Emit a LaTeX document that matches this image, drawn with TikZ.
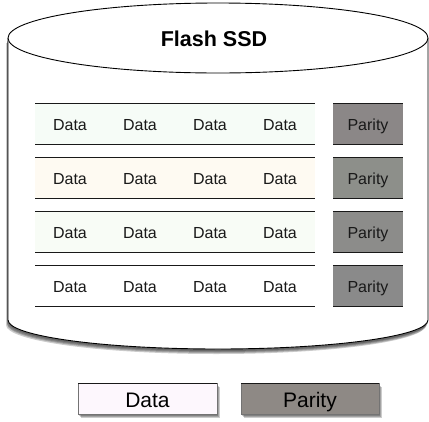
\documentclass[tikz,border=0pt]{standalone}
\usepackage{fontspec}
\setmainfont{Liberation Sans}
\definecolor{stripA}{HTML}{F6FCF7}
\definecolor{stripB}{HTML}{FEFAF2}
\definecolor{stripC}{HTML}{F8FCF6}
\definecolor{stripD}{HTML}{FFFFFF}
\definecolor{parA}{HTML}{8B8787}
\definecolor{parB}{HTML}{8D8F8A}
\definecolor{parC}{HTML}{8C8C8A}
\definecolor{parD}{HTML}{8A8A8A}
\definecolor{legData}{HTML}{FDF7FD}
\definecolor{legPar}{HTML}{8E8985}
\begin{document}
\begin{tikzpicture}[x=1pt,y=-1pt,
  cell/.style={inner sep=0pt, anchor=base, font=\fontsize{16}{18}\selectfont, text=black!90},
  legtext/.style={inner sep=0pt, anchor=base, font=\fontsize{21}{24}\selectfont},
  edge/.style={draw=black!90, line width=1pt},
  legbox/.style={draw=black!55, line width=0.8pt},
  shadowfill/.style={fill=black, opacity=0.2}
]
\useasboundingbox (0,0) rectangle (429,421);
\def\body{(8,38) -- (8,320) .. controls (8,336) and (102,349) .. (218,349) .. controls (334,349) and (428,336) .. (428,320) -- (428,38)}
% cylinder shadow
\foreach \dx/\dy in {-2/5,-1/4,-1/3,0/2} {
  \path[shadowfill, xshift=\dx pt, yshift=-\dy pt] \body -- cycle;
}
\path[fill=white] \body -- cycle;
\draw[line width=0.9pt] (8,38) -- (8,320) .. controls (8,336) and (102,349) .. (218,349) .. controls (334,349) and (428,336) .. (428,320) -- (428,38);
\draw[line width=0.9pt, fill=white] (218,38) ellipse [x radius=210, y radius=35];
\node[inner sep=0pt, anchor=base, font=\bfseries\fontsize{21.5}{24}\selectfont] (title) at (214,46.7) {Flash SSD};
% rows
\foreach \top/\sc/\pc [count=\i] in {103/stripA/parA,157/stripB/parB,211/stripC/parC,265/stripD/parD} {
  \pgfmathsetmacro{\bot}{\top+41}
  \pgfmathsetmacro{\base}{\top+27.5}
  \fill[\sc] (35,\top) rectangle (315,\bot);
  \fill[\pc] (333,\top) rectangle (403,\bot);
  \coordinate (sTL\i) at (35,\top);
  \coordinate (sTR\i) at (315,\top);
  \coordinate (sBL\i) at (35,\bot);
  \coordinate (sBR\i) at (315,\bot);
  \coordinate (pTL\i) at (333,\top);
  \coordinate (pTR\i) at (403,\top);
  \coordinate (pBL\i) at (333,\bot);
  \coordinate (pBR\i) at (403,\bot);
  \draw[edge] (sTL\i) -- (sTR\i);
  \draw[edge] (sBL\i) -- (sBR\i);
  \draw[edge] (pTL\i) -- (pTR\i);
  \draw[edge] (pBL\i) -- (pBR\i);
  \node[cell] (d\i a) at (70,\base) {Data};
  \node[cell] (d\i b) at (140,\base) {Data};
  \node[cell] (d\i c) at (210,\base) {Data};
  \node[cell] (d\i d) at (280,\base) {Data};
  \node[cell] (p\i) at (368,\base) {Parity};
}
% legend
\foreach \dx/\dy in {1/2,2/3,3/4} {
  \fill[shadowfill] (78+\dx,383+\dy) rectangle (217+\dx,414+\dy);
  \fill[shadowfill] (241+\dx,383+\dy) rectangle (379+\dx,414+\dy);
}
\draw[legbox, fill=legData] (78,383) rectangle (217,414);
\draw[legbox, fill=legPar] (241,383) rectangle (379,414);
\draw[edge] (78,383) -- (217,383);
\draw[edge] (241,383) -- (379,383);
\node[legtext] (legD) at (147.5,407.5) {Data};
\node[legtext] (legP) at (310,407.5) {Parity};
\end{tikzpicture}
\end{document}
